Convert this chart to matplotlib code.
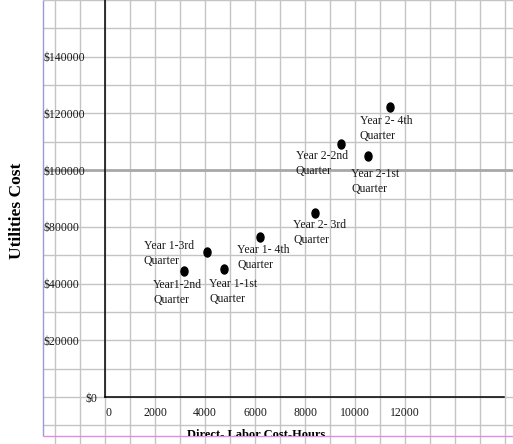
import numpy as np
import matplotlib
matplotlib.use("Agg")
import matplotlib.pyplot as plt
from matplotlib.path import Path
from matplotlib.transforms import Bbox

plt.rcParams["font.family"] = ["Liberation Serif", "DejaVu Serif"]


# PASSO 1

trimestres = ["Year 1-1st\nQuarter", "Year1-2nd\nQuarter", "Year 1-3rd\nQuarter",
              "Year 1- 4th\nQuarter", "Year 2-1st\nQuarter", "Year 2-2nd\nQuarter",
              "Year 2- 3rd\nQuarter", "Year 2- 4th\nQuarter"]
horas = [4760, 3160, 4080, 6200, 10520, 9440, 8400, 11400]
custos = [50300, 48900, 62300, 72900, 105000, 109200, 84900, 122300]

marcas_x = [0, 2000, 4000, 6000, 8000, 10000, 12000]
rotulos_x = ["0", "2000", "4000", "6000", "8000", "10000", "12000"]
marcas_y = [0, 20000, 40000, 80000, 100000, 120000, 140000]
rotulos_y = ["$0", "$20000", "$40000", "$80000", "$100000", "$120000", "$140000"]

# deslocamento do texto em pixels (direita, para baixo)
deslocamentos = [(-15, 9), (-31, 8), (-63, -12), (-23, 7),
                 (-17, 12), (-45, 6), (-22, 6), (-30, 8)]


# PASSO 2 (escala do eixo y: cada rotulo ocupa o mesmo espaco, mesmo faltando o 60000)

posicoes = np.arange(len(marcas_y))

def para_eixo(v):
    v = np.asarray(v, dtype=float)
    p = np.interp(v, marcas_y, posicoes)
    p = np.where(v > marcas_y[-1], posicoes[-1] + (v - marcas_y[-1]) / 20000, p)
    p = np.where(v < 0, v / 20000, p)
    return p

def do_eixo(p):
    p = np.asarray(p, dtype=float)
    v = np.interp(p, posicoes, marcas_y)
    v = np.where(p > posicoes[-1], marcas_y[-1] + (p - posicoes[-1]) * 20000, v)
    v = np.where(p < 0, p * 20000, v)
    return v


# PASSO 3 (papel quadriculado no fundo)

fig = plt.figure(figsize=(5.13, 4.44), dpi=100)
fig.patch.set_facecolor("white")

fundo = fig.add_axes([0, 0, 1, 1], zorder=0)
fundo.set_xlim(0, 513)
fundo.set_ylim(444, 0)
fundo.axis("off")

fundo.vlines(np.arange(54.5, 513, 25), 0, 444, color="#c4c4c4", linewidth=1)
for k in range(-1, 15):
    y = 397 - 28.35 * k
    if k == 8:
        fundo.hlines(y, 43, 513, color="#a8a8a8", linewidth=2)
    else:
        fundo.hlines(y, 43, 513, color="#c4c4c4", linewidth=1)
fundo.vlines(43, 0, 436, color="#9a9ad8", linewidth=1)
fundo.hlines(436, 43, 513, color="#e58ae5", linewidth=1)


# PASSO 4 (grafico de dispersao)

ax = fig.add_axes([105 / 513, 47 / 444, 399 / 513, 397 / 444], zorder=1)
ax.patch.set_alpha(0)
ax.set_yscale("function", functions=(para_eixo, do_eixo))
ax.set_xlim(0, 15960)
ax.set_ylim(0, 160000)

for lado in ["top", "right"]:
    ax.spines[lado].set_visible(False)
for lado in ["left", "bottom"]:
    ax.spines[lado].set_color("black")
    ax.spines[lado].set_linewidth(1.1)

elipse = Path(Path.unit_circle().vertices * [0.78, 1.0], Path.unit_circle().codes)
ax.plot(horas, custos, linestyle="none", marker=elipse, markersize=6.5,
        color="black", zorder=3, clip_on=False)

for texto, x, y, (dx, dy) in zip(trimestres, horas, custos, deslocamentos):
    ax.annotate(texto, (x, y), xytext=(dx, -dy), textcoords="offset pixels",
                ha="left", va="top", fontsize=8.5, color="#1a1a1a",
                linespacing=1.35)

ax.set_xticks(marcas_x, rotulos_x)
ax.set_yticks(marcas_y, rotulos_y)
ax.minorticks_off()
ax.tick_params(axis="x", length=0, pad=7, labelsize=8.5, labelcolor="#1a1a1a")
ax.tick_params(axis="y", length=0, pad=62 * 0.72, labelsize=8.5, labelcolor="#1a1a1a")
for rotulo in ax.get_yticklabels():
    rotulo.set_ha("left")
ax.get_yticklabels()[0].set_x(42 / 399)
ax.get_xticklabels()[0].set_ha("left")

# titulos dos eixos
fig.text(17 / 513, 1 - 211 / 444, "Utilities Cost", rotation=90, ha="center",
         va="center", fontsize=12.5, fontweight="bold")
nome_x = fig.text(187 / 513, 6 / 444, "Direct- Labor Cost-Hours", ha="left",
                  va="baseline", fontsize=9, fontweight="bold")
nome_x.set_clip_box(Bbox([[0, 8], [513, 444]]))
nome_x.set_clip_on(True)

fig.savefig("out.png", dpi=100, facecolor="white")
